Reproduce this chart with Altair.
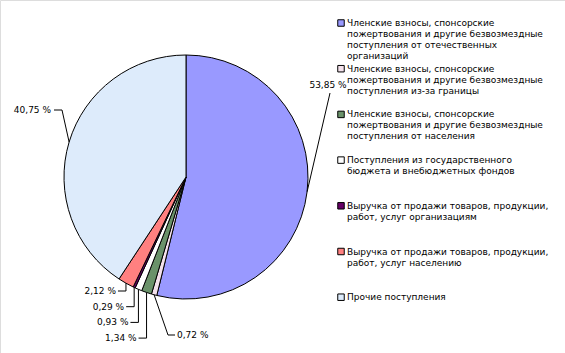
import math
import altair as alt
import pandas as pd

# ---- data ----
keys = ["a", "b", "c", "d", "e", "f", "g"]
values = [53.85, 0.72, 1.34, 0.93, 0.29, 2.12, 40.75]
colors = ["#9999FF", "#F4E2EC", "#6A926A", "#FFFFFF", "#660066", "#FF8080", "#DDEBFB"]
legend_lines = [
    ["Членские взносы, спонсорские", "пожертвования и другие безвозмездные",
     "поступления от отечественных", "организаций"],
    ["Членские взносы, спонсорские", "пожертвования и другие безвозмездные",
     "поступления из-за границы"],
    ["Членские взносы, спонсорские", "пожертвования и другие безвозмездные",
     "поступления от населения"],
    ["Поступления из государственного", "бюджета и внебюджетных фондов"],
    ["Выручка от продажи товаров, продукции,", "работ, услуг организациям"],
    ["Выручка от продажи товаров, продукции,", "работ, услуг населению"],
    ["Прочие поступления"],
]

W, H = 565, 353
FONT = "DejaVu Sans"
FS = 9

# ---- geometry (layout) ----
cx, cy, R = 186, 177, 122
total = sum(values)
cum = 0
edges = []
for v in values:
    mid = (cum + v / 2) / total * 2 * math.pi
    edges.append((cx + R * math.sin(mid), cy - R * math.cos(mid)))
    cum += v

def pct(v):
    return f"{v:.2f}".replace(".", ",") + " %"

line_rows, text_rows = [], []
def add_line(i, pts):
    for k, (x, y) in enumerate(pts):
        line_rows.append({"lid": i, "ord": k, "x": x, "y": y})

# slice 0 (big, right)
ex, ey = edges[0]
add_line(0, [(ex, ey), (330, 93)])
text_rows.append({"x": 328, "y": 85, "t": pct(values[0]), "al": "center"})
# slice 6 (big, left)
ex, ey = edges[6]
add_line(6, [(ex, ey), (62, 110), (54, 110)])
text_rows.append({"x": 51, "y": 110, "t": pct(values[6]), "al": "right"})
# slice 1 (small, right of stack)
ex, ey = edges[1]
add_line(1, [(ex, ey), (168, 335), (175, 335)])
text_rows.append({"x": 177, "y": 335, "t": pct(values[1]), "al": "left"})
# small slices stacked to the left, bottom-up order
stack = [5, 4, 3, 2]
for k, i in enumerate(stack):
    ex, ey = edges[i]
    ly = 291 + k * 15.7
    add_line(i, [(ex, ey), (ex, ly), (ex - 8, ly)])
    text_rows.append({"x": ex - 10, "y": ly, "t": pct(values[i]), "al": "right"})

slices = pd.DataFrame({"key": keys, "value": values, "idx": range(len(values))})
lines = pd.DataFrame(line_rows)
texts = pd.DataFrame(text_rows)

# legend
lx, ly0, lstep, lh = 341, 23, 45.7, 11
sym_rows, leg_rows = [], []
for i, ls in enumerate(legend_lines):
    y = ly0 + i * lstep
    sym_rows.append({"key": keys[i], "x": lx, "y": y})
    for j, s in enumerate(ls):
        leg_rows.append({"x": lx + 6, "y": y + j * lh, "t": s})
syms = pd.DataFrame(sym_rows)
legt = pd.DataFrame(leg_rows)

xs = alt.Scale(domain=[0, W], nice=False, zero=False)
ys = alt.Scale(domain=[H, 0], nice=False, zero=False)
cs = alt.Scale(domain=keys, range=colors)

X = lambda: alt.X("x:Q", scale=xs, axis=None)
Y = lambda: alt.Y("y:Q", scale=ys, axis=None)

pie = alt.Chart(slices).mark_arc(outerRadius=R, stroke="black", strokeWidth=1).encode(
    theta=alt.Theta("value:Q", stack=True),
    color=alt.Color("key:N", scale=cs, legend=None),
    order=alt.Order("idx:Q"),
    x=alt.value(cx), y=alt.value(cy),
)

leaders = alt.Chart(lines).mark_line(color="black", strokeWidth=1).encode(
    x=X(), y=Y(), detail="lid:N", order="ord:Q"
)

def label_layer(al):
    return alt.Chart(texts).transform_filter(alt.datum.al == al).mark_text(
        align=al, baseline="middle", font=FONT, fontSize=FS, color="black"
    ).encode(x=X(), y=Y(), text="t:N")

symbols = alt.Chart(syms).mark_square(size=42, filled=True, stroke="black", strokeWidth=1, opacity=1).encode(
    x=X(), y=Y(), color=alt.Color("key:N", scale=cs, legend=None)
)
legtext = alt.Chart(legt).mark_text(
    align="left", baseline="middle", font=FONT, fontSize=FS, color="black"
).encode(x=X(), y=Y(), text="t:N")

chart = alt.layer(
    pie, leaders, label_layer("left"), label_layer("right"), label_layer("center"), symbols, legtext
).properties(
    width=W, height=H, autosize=alt.AutoSizeParams(type="none"), padding=0
).configure_view(stroke=None).configure(background="white")

chart.save("out.html", embed_options={"renderer": "svg", "actions": False})
